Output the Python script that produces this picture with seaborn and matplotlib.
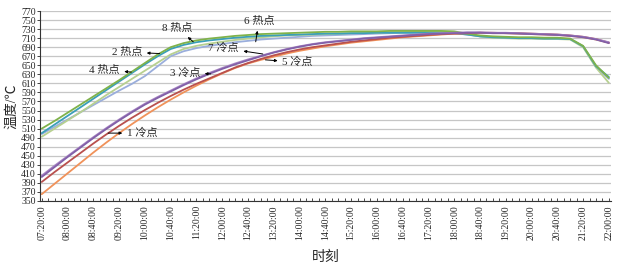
import pandas as pd
import seaborn as sns
import matplotlib.pyplot as plt
import matplotlib.ticker as mticker

# Minutes since 07:20, every 20 minutes up to 22:00
minutes = list(range(0, 881, 20))

hot_green = [510, 527, 545, 563, 581, 599, 617, 636, 655, 674, 690, 699, 705, 709, 712,
             715, 717, 719, 720, 721, 722, 723, 724, 724, 725, 725, 725, 726, 726, 726,
             726, 726, 725, 720, 716, 714, 713, 712, 712, 711, 711, 709, 693, 650, 622]
hot_teal = [500, 519, 538, 557, 576, 595, 614, 633, 652, 670, 686, 695, 701, 705, 708,
            711, 713, 715, 716, 717, 718, 719, 720, 720, 721, 721, 722, 722, 722, 722,
            722, 722, 721, 718, 714, 712, 711, 710, 710, 709, 709, 708, 692, 648, 624]
hot_lightgreen = [492, 510, 528, 546, 565, 584, 602, 620, 638, 656, 674, 686, 693, 698, 702,
                  706, 709, 712, 714, 716, 717, 718, 719, 720, 721, 722, 722, 723, 723, 724,
                  724, 724, 723, 719, 714, 711, 710, 709, 709, 708, 708, 707, 690, 645, 611]
hot_lightblue = [498, 514, 530, 546, 562, 578, 594, 609, 626, 648, 670, 681, 688, 693, 697,
                 701, 704, 707, 709, 711, 713, 715, 716, 717, 718, 719, 720, 721, 722, 722,
                 722, 722, 721, 718, 714, 712, 711, 710, 710, 709, 709, 708, 692, 646, 620]

cold_purple = [403, 425, 447, 468, 489, 509, 528, 546, 563, 578, 592, 606, 619, 631, 642,
               652, 661, 670, 678, 685, 691, 696, 700, 703, 706, 709, 711, 713, 715, 717,
               719, 720, 721, 722, 722, 721, 721, 720, 719, 718, 717, 715, 712, 707, 699]
cold_mauve = [406, 428, 449, 470, 491, 511, 530, 548, 565, 580, 594, 608, 621, 633, 644,
              654, 663, 671, 679, 686, 692, 697, 701, 704, 707, 710, 712, 714, 716, 718,
              720, 721, 722, 723, 723, 722, 722, 721, 720, 719, 718, 716, 713, 708, 701]
cold_red = [392, 414, 435, 456, 477, 497, 516, 534, 551, 567, 582, 596, 609, 621, 633,
            645, 655, 664, 672, 679, 685, 690, 694, 698, 702, 705, 708, 711, 713, 715,
            717, 719, 720, 721, 722, 722, 721, 721, 720, 719, 718, 716, 713, 708, 700]
cold_orange = [365, 388, 411, 434, 457, 479, 500, 520, 539, 557, 574, 590, 605, 619, 632,
               644, 654, 662, 669, 676, 682, 687, 692, 696, 700, 703, 706, 709, 712, 714,
               716, 718, 720, 721, 722, 721, 721, 720, 719, 718, 717, 715, 712, 707, 700]

series = {
    "hot_lightblue": hot_lightblue,
    "hot_lightgreen": hot_lightgreen,
    "hot_teal": hot_teal,
    "hot_green": hot_green,
    "cold_orange": cold_orange,
    "cold_red": cold_red,
    "cold_mauve": cold_mauve,
    "cold_purple": cold_purple,
}
colors = {
    "hot_green": "#7fb24a",
    "hot_teal": "#3a9fb8",
    "hot_lightgreen": "#b7d090",
    "hot_lightblue": "#9aaedc",
    "cold_purple": "#8260a8",
    "cold_mauve": "#a886c4",
    "cold_red": "#b9504e",
    "cold_orange": "#f0925a",
}

# (label, line point, label position) in (minutes, temperature)
labels = [
    ("8 热点", (235, 702), (210, 733)),
    ("2 热点", (183, 676), (132, 679)),
    ("4 热点", (139, 635), (97, 640)),
    ("6 热点", (332, 702), (337, 748)),
    ("7 冷点", (343, 675), (282, 688)),
    ("3 冷点", (262, 631), (222, 633)),
    ("1 冷点", (103, 500), (156, 500)),
    ("5 冷点", (347, 662), (397, 657)),
]

df = pd.DataFrame([
    {"minute": m, "temp": v, "series": name}
    for name, vals in series.items()
    for m, v in zip(minutes, vals)
])

sns.set_style("white")
plt.rcParams["font.family"] = ["Liberation Serif", "Noto Sans CJK SC"]

fig = plt.figure(figsize=(6.22, 2.69), dpi=100)
ax = fig.add_axes([0.064, 0.253, 0.918, 0.706])

sns.lineplot(data=df, x="minute", y="temp", hue="series", palette=colors,
             linewidth=1.3, legend=False, ax=ax)

ax.set_xlim(-3, 883)
ax.set_ylim(350, 770)
ax.set_yticks(range(350, 771, 20))
ax.yaxis.grid(True, color="#c6c6c6", linewidth=0.9)
ax.xaxis.grid(False)

tick_min = list(range(0, 881, 40))
tick_lab = [f"{(440 + m) // 60:02d}:{(440 + m) % 60:02d}:00" for m in tick_min]
ax.set_xticks(tick_min)
ax.set_xticklabels(tick_lab, rotation=90)
ax.xaxis.set_minor_locator(mticker.MultipleLocator(10))
ax.tick_params(axis="x", which="both", direction="in", length=2.5, width=0.6,
               labelsize=7, pad=3, bottom=True)
ax.tick_params(axis="y", direction="out", length=2, width=0.6, labelsize=7, pad=1, left=True)

for s in ["top", "right"]:
    ax.spines[s].set_visible(False)
for s in ["left", "bottom"]:
    ax.spines[s].set_color("#333333")
    ax.spines[s].set_linewidth(0.8)

ax.set_xlabel("时刻", fontsize=10, labelpad=8)
ax.set_ylabel("温度/℃", fontsize=10, labelpad=2)

for text, pt, pos in labels:
    ax.annotate(text, xy=pt, xytext=pos, fontsize=8, ha="center", va="center",
                arrowprops=dict(arrowstyle="<|-", color="black", lw=0.7,
                                mutation_scale=4, shrinkA=1, shrinkB=0))

fig.savefig("out.png", dpi=100)
